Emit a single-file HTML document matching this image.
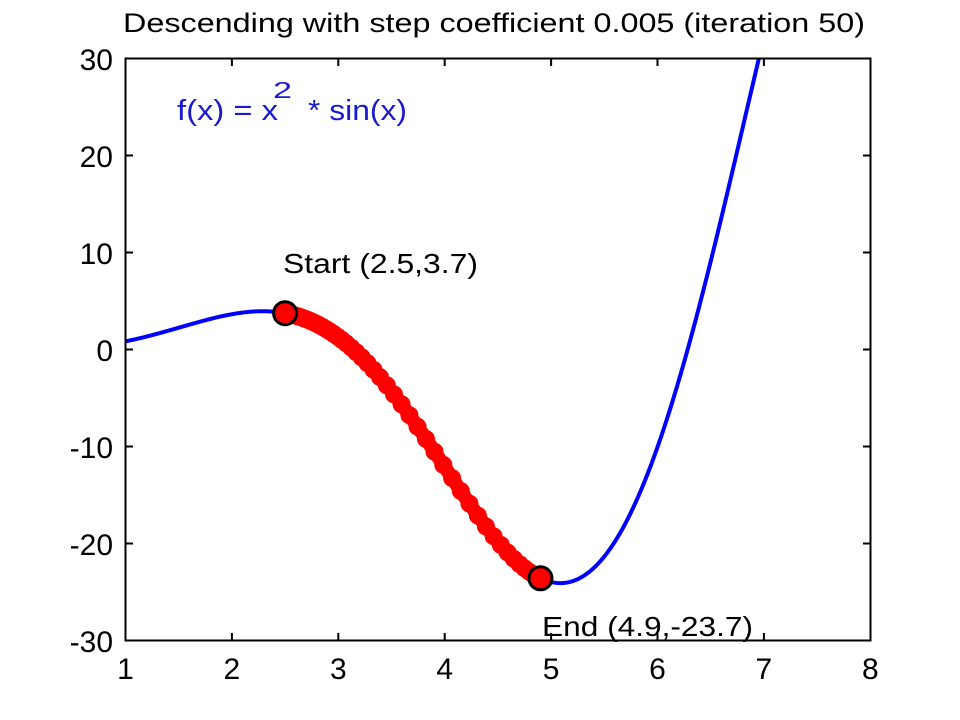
<!DOCTYPE html>
<html>
<head>
<meta charset="utf-8">
<style>
  html,body{margin:0;padding:0;background:#fff;}
  svg{display:block;}
  text{font-family:"Liberation Sans",Arial,sans-serif;}
</style>
</head>
<body>
<svg id="s" width="960" height="720" viewBox="0 0 960 720" xmlns="http://www.w3.org/2000/svg">
  <rect width="960" height="720" fill="#fff"/>
  <defs>
    <clipPath id="pc"><rect x="125.5" y="58.5" width="745" height="582"/></clipPath>
  </defs>
  <!-- title -->
  <text x="123" y="32" font-size="27" textLength="742" lengthAdjust="spacingAndGlyphs" fill="#000">Descending with step coefficient 0.005 (iteration 50)</text>

  <g id="curves" clip-path="url(#pc)"></g>
  <g id="markers"></g>

  <!-- axes box -->
  <rect x="125.5" y="58.5" width="745" height="582" fill="none" stroke="#000" stroke-width="2"/>
  <g id="ticks" stroke="#000" stroke-width="2"></g>

  <!-- y tick labels -->
  <g font-size="30" text-anchor="end" fill="#000">
    <text x="113" y="70">30</text>
    <text x="113" y="167">20</text>
    <text x="113" y="264">10</text>
    <text x="113" y="361">0</text>
    <text x="113" y="458">-10</text>
    <text x="113" y="555">-20</text>
    <text x="113" y="652">-30</text>
  </g>
  <!-- x tick labels -->
  <g font-size="30" text-anchor="middle" fill="#000">
    <text x="125.5" y="679">1</text>
    <text x="231.9" y="679">2</text>
    <text x="338.3" y="679">3</text>
    <text x="444.7" y="679">4</text>
    <text x="551.1" y="679">5</text>
    <text x="657.5" y="679">6</text>
    <text x="763.9" y="679">7</text>
    <text x="870.3" y="679">8</text>
  </g>

  <!-- function label -->
  <g fill="#1a1ad0">
    <text x="177" y="120" font-size="29" textLength="101" lengthAdjust="spacingAndGlyphs">f(x) = x</text>
    <text x="273" y="98" font-size="23" textLength="19" lengthAdjust="spacingAndGlyphs">2</text>
    <text x="308" y="120" font-size="29" textLength="99" lengthAdjust="spacingAndGlyphs">* sin(x)</text>
  </g>

  <!-- annotations -->
  <text x="283" y="273" font-size="28" textLength="195" lengthAdjust="spacingAndGlyphs" fill="#000">Start (2.5,3.7)</text>
  <text x="542" y="636" font-size="28" textLength="211" lengthAdjust="spacingAndGlyphs" fill="#000">End (4.9,-23.7)</text>
</svg>
<script>
(function(){
  var NS="http://www.w3.org/2000/svg";
  var X0=125.5, XS=106.4, Y0=349.5, YS=9.7;
  function px(x){return X0+(x-1)*XS;}
  function py(y){return Y0-y*YS;}
  function f(x){return x*x*Math.sin(x);}
  function fp(x){return 2*x*Math.sin(x)+x*x*Math.cos(x);}
  function el(n,a,p){var e=document.createElementNS(NS,n);for(var k in a)e.setAttribute(k,a[k]);p.appendChild(e);return e;}
  var curves=document.getElementById('curves');
  var markers=document.getElementById('markers');
  var ticks=document.getElementById('ticks');
  // ticks
  for(var i=2;i<=7;i++){
    var x=px(i);
    el('line',{x1:x,y1:640.5,x2:x,y2:633},ticks);
    el('line',{x1:x,y1:58.5,x2:x,y2:66},ticks);
  }
  for(var v=-20;v<=20;v+=10){
    var y=py(v);
    el('line',{x1:125.5,y1:y,x2:133,y2:y},ticks);
    el('line',{x1:870.5,y1:y,x2:863,y2:y},ticks);
  }
  // blue curve
  var d="";
  for(var t=1;t<=7.2;t+=0.01){
    d+=(d?"L":"M")+px(t).toFixed(2)+","+py(f(t)).toFixed(2);
  }
  el('path',{d:d,fill:"none",stroke:"#0000ff","stroke-width":4,"stroke-linejoin":"round"},curves);
  // gradient descent until x reaches ~4.9
  var xs=[2.5];
  var xc=2.5;
  for(var k=0;k<300;k++){
    xc=xc-0.005*fp(xc);
    if(xc>4.9){xc=4.9;xs.push(xc);break;}
    xs.push(xc);
  }
  var rd="";
  for(var j=0;j<xs.length;j++){
    rd+=(rd?"L":"M")+px(xs[j]).toFixed(2)+","+py(f(xs[j])).toFixed(2);
  }
  el('path',{d:rd,fill:"none",stroke:"#ff0000","stroke-width":14,"stroke-linejoin":"round","stroke-linecap":"round"},markers);
  for(var j=0;j<xs.length;j++){
    var cx=px(xs[j]), cy=py(f(xs[j]));
    el('circle',{cx:cx,cy:cy,r:9,fill:"#ff0000"},markers);
  }
  // start / end markers
  var xe=xs[xs.length-1];
  el('circle',{cx:px(2.5),cy:py(f(2.5)),r:11.5,fill:"#ff0000",stroke:"#000","stroke-width":3},markers);
  el('circle',{cx:px(xe),cy:py(f(xe)),r:11.5,fill:"#ff0000",stroke:"#000","stroke-width":3},markers);
})();
</script>
</body>
</html>
